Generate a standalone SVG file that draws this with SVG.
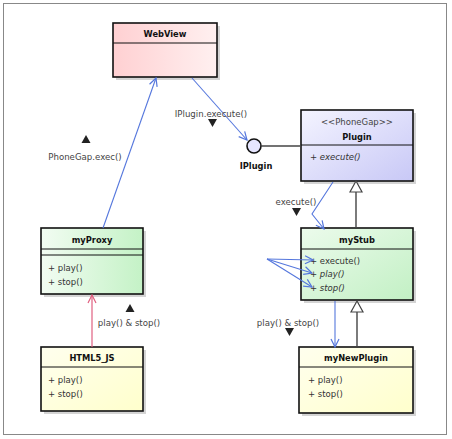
<svg xmlns="http://www.w3.org/2000/svg" width="452" height="439" viewBox="0 0 452 439">
<defs>
<linearGradient id="gPink" x1="0" y1="0" x2="1" y2="0"><stop offset="0" stop-color="#ffd0d2"/><stop offset="1" stop-color="#fff0f0"/></linearGradient>
<linearGradient id="gBlue" x1="0" y1="0" x2="1" y2="1"><stop offset="0" stop-color="#f4f4ff"/><stop offset="1" stop-color="#c8c8f6"/></linearGradient>
<linearGradient id="gGreen" x1="0" y1="0" x2="1" y2="1"><stop offset="0" stop-color="#ecfbec"/><stop offset="1" stop-color="#c2f0c4"/></linearGradient>
<linearGradient id="gGreen2" x1="0" y1="0" x2="1" y2="0"><stop offset="0" stop-color="#f2fcf2"/><stop offset="1" stop-color="#c4f2c6"/></linearGradient>
<linearGradient id="gYellow" x1="0" y1="0" x2="1" y2="1"><stop offset="0" stop-color="#ffffee"/><stop offset="1" stop-color="#ffffcc"/></linearGradient>
<marker id="openBlue" viewBox="0 0 10 10" refX="9" refY="5" markerWidth="10" markerHeight="10" markerUnits="userSpaceOnUse" orient="auto">
<path d="M1,1 L9,5 L1,9" fill="none" stroke="#5577dd" stroke-width="1.2"/>
</marker>
<marker id="openPink" viewBox="0 0 10 10" refX="9" refY="5" markerWidth="10" markerHeight="10" markerUnits="userSpaceOnUse" orient="auto">
<path d="M1,1 L9,5 L1,9" fill="none" stroke="#e06080" stroke-width="1.2"/>
</marker>
</defs>
<style>
.frame{fill:#fff;stroke:#888;stroke-width:1}
.shadow{fill:#d4d4d4}
.box{stroke:#111;stroke-width:1.6}
.sep{stroke:#111;stroke-width:1}
.title{font-family:"DejaVu Sans",sans-serif;font-size:8.3px;font-weight:bold;fill:#111;text-anchor:middle}
.stereo{font-family:"DejaVu Sans",sans-serif;font-size:8.5px;fill:#444;text-anchor:middle}
.m{font-family:"DejaVu Sans",sans-serif;font-size:8.5px;fill:#333}
.lbl{font-family:"DejaVu Sans",sans-serif;font-size:8.6px;fill:#444;text-anchor:middle}
.blue{fill:none;stroke:#5577dd;stroke-width:1.1;marker-end:url(#openBlue)}
.pink{fill:none;stroke:#e06080;stroke-width:1.2;marker-end:url(#openPink)}
.gen{fill:none;stroke:#444;stroke-width:1.4}
.tri{fill:#fff;stroke:#444;stroke-width:1.2}
.dir{fill:#222}
</style>
<rect x="3.5" y="3.5" width="443" height="431" class="frame"/>

<g id="WebView">
<rect x="116" y="26" width="104" height="54" class="shadow"/>
<rect x="113" y="23" width="104" height="54" class="box" fill="url(#gPink)"/>
<line x1="113" y1="43" x2="217" y2="43" class="sep"/>
<text x="165" y="37" class="title">WebView</text>
</g>

<g id="Plugin">
<rect x="304" y="113" width="112" height="71" class="shadow"/>
<rect x="301" y="110" width="112" height="71" class="box" fill="url(#gBlue)"/>
<line x1="301" y1="145" x2="413" y2="145" class="sep"/>
<text x="357" y="125" class="stereo">&lt;&lt;PhoneGap&gt;&gt;</text>
<text x="357" y="140" class="title">Plugin</text>
<text x="310" y="160" class="m">+ <tspan font-style="italic">execute()</tspan></text>
</g>

<g id="IPlugin">
<circle cx="254" cy="146" r="7" fill="#e6e6ff" stroke="#111" stroke-width="1.6"/>
<text x="256" y="169" class="title">IPlugin</text>
</g>

<g id="myStub">
<rect x="304" y="231" width="112" height="72" class="shadow"/>
<rect x="301" y="228" width="112" height="72" class="box" fill="url(#gGreen)"/>
<line x1="301" y1="249" x2="413" y2="249" class="sep"/>
<text x="357" y="243" class="title">myStub</text>
<text x="310" y="264" class="m">+ execute()</text>
<text x="310" y="277" class="m">+ <tspan font-style="italic">play()</tspan></text>
<text x="310" y="291" class="m">+ <tspan font-style="italic">stop()</tspan></text>
</g>

<g id="myNewPlugin">
<rect x="302" y="350" width="114" height="66" class="shadow"/>
<rect x="299" y="347" width="114" height="66" class="box" fill="url(#gYellow)"/>
<line x1="299" y1="367" x2="413" y2="367" class="sep"/>
<text x="356" y="361" class="title">myNewPlugin</text>
<text x="308" y="383" class="m">+ play()</text>
<text x="308" y="397" class="m">+ stop()</text>
</g>

<g id="myProxy">
<rect x="44" y="231" width="102" height="66" class="shadow"/>
<rect x="41" y="228" width="102" height="66" class="box" fill="url(#gGreen2)"/>
<line x1="41" y1="249" x2="143" y2="249" class="sep"/>
<line x1="41" y1="255" x2="143" y2="255" class="sep"/>
<text x="92" y="243" class="title">myProxy</text>
<text x="48" y="271" class="m">+ play()</text>
<text x="48" y="285" class="m">+ stop()</text>
</g>

<g id="HTML5_JS">
<rect x="44" y="350" width="102" height="64" class="shadow"/>
<rect x="41" y="347" width="102" height="64" class="box" fill="url(#gYellow)"/>
<line x1="41" y1="367" x2="143" y2="367" class="sep"/>
<text x="92" y="361" class="title">HTML5_JS</text>
<text x="48" y="383" class="m">+ play()</text>
<text x="48" y="397" class="m">+ stop()</text>
</g>

<g id="connectors">
<line x1="103" y1="228" x2="156" y2="78" class="blue"/>
<line x1="192" y1="78" x2="247" y2="140" class="blue"/>
<line x1="261" y1="146" x2="301" y2="146" stroke="#444" stroke-width="1.4"/>
<polyline points="333,182 312,214 324,229" class="blue"/>
<line x1="356" y1="228" x2="356" y2="192" class="gen"/>
<polygon points="356,181 350,192 362,192" class="tri"/>
<line x1="267" y1="259" x2="313" y2="260" class="blue"/>
<line x1="267" y1="259" x2="312" y2="273" class="blue"/>
<line x1="267" y1="259" x2="312" y2="287" class="blue"/>
<line x1="335" y1="301" x2="335" y2="347" class="blue"/>
<line x1="357" y1="347" x2="357" y2="312" class="gen"/>
<polygon points="357,301 351,312 363,312" class="tri"/>
<line x1="92" y1="347" x2="92" y2="295" class="pink"/>
</g>

<g id="labels">
<text x="85" y="160" class="lbl">PhoneGap.exec()</text>
<polygon points="86,135 81.5,143 90.5,143" class="dir"/>
<text x="211" y="117" class="lbl">IPlugin.execute()</text>
<polygon points="208,119 217,119 212.5,127" class="dir"/>
<text x="296" y="205" class="lbl">execute()</text>
<polygon points="292,208 301,208 296.5,216" class="dir"/>
<text x="288" y="326" class="lbl">play() &amp; stop()</text>
<polygon points="285,328 294,328 289.5,336" class="dir"/>
<text x="129" y="326" class="lbl">play() &amp; stop()</text>
<polygon points="130,304 125.5,312 134.5,312" class="dir"/>
</g>
</svg>
